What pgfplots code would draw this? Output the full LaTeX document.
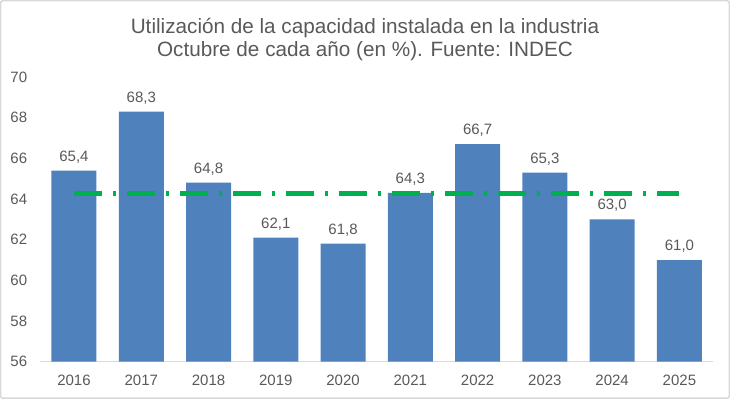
\documentclass[border=0pt]{standalone}
\usepackage{fontspec}
\setmainfont{Liberation Sans}
\usepackage{pgfplots}
\pgfplotsset{compat=1.18}
\definecolor{barblue}{HTML}{4F81BD}
\definecolor{lgreen}{HTML}{00B050}
\definecolor{txtgray}{HTML}{595959}
\definecolor{axgray}{HTML}{D9D9D9}
\begin{document}
\begin{tikzpicture}
\draw[axgray, line width=1.5bp, rounded corners=2bp] (-39.6bp,-36.5bp) rectangle (688.8bp,360.9bp);
\node[txtgray, font=\fontsize{20.7bp}{23.3bp}\selectfont, align=center] at (324.6bp,322.4bp)
  {Utilización de la capacidad instalada en la industria\\Octubre de cada año (en \%). Fuente: INDEC};
\begin{axis}[
  at={(0,0)}, anchor=south west,
  scale only axis, width=672.6bp, height=284.7bp,
  xmin=-0.5, xmax=9.5, ymin=56, ymax=70,
  xtick={0,...,9},
  xticklabels={2016,2017,2018,2019,2020,2021,2022,2023,2024,2025},
  ytick={56,58,...,70},
  axis x line*=bottom, axis y line*=left,
  x axis line style={axgray, line width=1bp, -},
  y axis line style={draw=none},
  major tick length=0pt,
  tick label style={font=\fontsize{15bp}{18bp}\selectfont, text=txtgray, inner sep=0pt},
  xticklabel style={anchor=north, yshift=-12.8bp},
  yticklabel style={anchor=east, xshift=-13bp},
  /pgf/number format/assume math mode=true,
  clip=false,
]
\addplot[ybar, bar width=45bp, fill=barblue, draw=none,
  nodes near coords,
  nodes near coords style={font=\fontsize{15bp}{18bp}\selectfont, text=txtgray, inner sep=0pt, anchor=base, yshift=9.5bp,
    /pgf/number format/.cd, fixed, fixed zerofill, precision=1, use comma, assume math mode=true},
] coordinates {
  (0,65.4) (1,68.3) (2,64.8) (3,62.1) (4,61.8)
  (5,64.3) (6,66.7) (7,65.3) (8,63.0) (9,61.0)
};
\addplot[lgreen, line width=4bp, dash pattern=on 28bp off 11bp on 3bp off 11bp] coordinates {(0,64.27) (9,64.27)};
\end{axis}
\end{tikzpicture}
\end{document}
